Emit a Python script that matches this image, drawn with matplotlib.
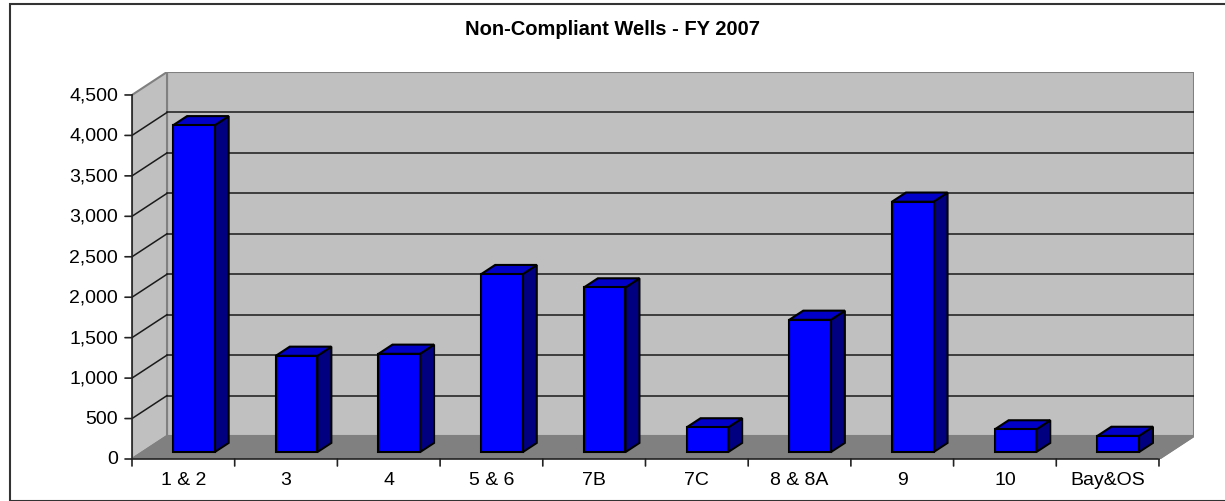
import matplotlib
matplotlib.use("Agg")
import matplotlib.pyplot as plt
from matplotlib.patches import Polygon, Rectangle

plt.rcParams['font.family'] = ['Liberation Sans', 'DejaVu Sans']

# chart data
categories = ['1 & 2', '3', '4', '5 & 6', '7B', '7C', '8 & 8A', '9', '10', 'Bay&OS']
wells = [4040, 1190, 1215, 2200, 2035, 305, 1635, 3095, 280, 200]
y_ticks = [0, 500, 1000, 1500, 2000, 2500, 3000, 3500, 4000, 4500]
title = 'Non-Compliant Wells - FY 2007'

# oblique "3d" depth offset, in data units (categories, value)
DX = 0.341
DY = 284
BAR_W = 0.405
D0, D1 = 0.3, 0.7   # bar front / back as fraction of the depth
y_max = y_ticks[-1]
n = len(categories)

W, H = 1225, 502
fig = plt.figure(figsize=(W / 100, H / 100), dpi=100)

# outer border of the chart area
fig.add_artist(Rectangle((9.5 / W, 0.5 / H), 1.2, (H - 5) / H,
                         transform=fig.transFigure, fill=False,
                         edgecolor='#333333', linewidth=1.5))

fig.text(0.5, 1 - 30 / H, title, ha='center', va='center',
         fontsize=14.5, fontweight='bold')

ax = fig.add_axes([132 / W, (H - 460) / H, (1194 - 132) / W, (460 - 73) / H])
ax.set_xlim(-0.5, n - 0.5 + DX)
ax.set_ylim(0, y_max + DY)
ax.axis('off')

x0, x1 = -0.5, n - 0.5
wall = '#C0C0C0'
edge = '#808080'

# back wall, side wall, floor
ax.add_patch(Polygon([(x0 + DX, DY), (x1 + DX, DY), (x1 + DX, y_max + DY), (x0 + DX, y_max + DY)],
                     closed=True, facecolor=wall, edgecolor=edge, lw=1.5, zorder=1))
ax.add_patch(Polygon([(x0, 0), (x0 + DX, DY), (x0 + DX, y_max + DY), (x0, y_max)],
                     closed=True, facecolor=wall, edgecolor=edge, lw=1.5, zorder=1))
ax.add_patch(Polygon([(x0, 0), (x1, 0), (x1 + DX, DY), (x0 + DX, DY)],
                     closed=True, facecolor='#808080', edgecolor=edge, lw=1.5, zorder=2))

# gridlines
for v in y_ticks[1:-1]:
    ax.plot([x0 + DX, x1 + DX], [v + DY, v + DY], color='#1a1a1a', lw=1.1, zorder=2)
    ax.plot([x0, x0 + DX], [v, v + DY], color='#1a1a1a', lw=1.1, zorder=2)

# front axes
ax.plot([x0, x0], [0, y_max], color='#222222', lw=1.2, zorder=3, clip_on=False)
ax.plot([x0, x1], [0, 0], color='#222222', lw=1.2, zorder=3, clip_on=False)
ax.plot([x1, x1 + DX], [0, DY], color=edge, lw=1.2, zorder=3)

tick_px = 7
for v in y_ticks:
    ax.annotate('', xy=(x0, v), xytext=(-tick_px, 0), textcoords='offset pixels',
                arrowprops=dict(arrowstyle='-', color='#222222', lw=1.2,
                                shrinkA=0, shrinkB=0))
    ax.annotate(f'{v:,}', xy=(x0, v), xytext=(-tick_px - 7, 0), textcoords='offset pixels',
                ha='right', va='center', fontsize=14)
for i in range(n + 1):
    ax.annotate('', xy=(x0 + i, 0), xytext=(0, -tick_px), textcoords='offset pixels',
                arrowprops=dict(arrowstyle='-', color='#222222', lw=1.2,
                                shrinkA=0, shrinkB=0))
for i, lab in enumerate(categories):
    ax.annotate(lab, xy=(i, 0), xytext=(0, -21), textcoords='offset pixels',
                ha='center', va='center', fontsize=14)

# bars
for i, v in enumerate(wells):
    l = i - BAR_W / 2
    r = i + BAR_W / 2
    fx, fy = D0 * DX, D0 * DY
    bx, by = D1 * DX, D1 * DY
    front = [(l + fx, fy), (r + fx, fy), (r + fx, v + fy), (l + fx, v + fy)]
    side = [(r + fx, fy), (r + bx, by), (r + bx, v + by), (r + fx, v + fy)]
    top = [(l + fx, v + fy), (r + fx, v + fy), (r + bx, v + by), (l + bx, v + by)]
    ax.add_patch(Polygon(side, closed=True, facecolor='#000080', edgecolor='black',
                         lw=1.5, joinstyle='miter', zorder=5))
    ax.add_patch(Polygon(top, closed=True, facecolor='#0000C8', edgecolor='black',
                         lw=1.5, joinstyle='miter', zorder=5))
    ax.add_patch(Polygon(front, closed=True, facecolor='#0000FF', edgecolor='black',
                         lw=1.5, joinstyle='miter', zorder=6))

fig.savefig('out.png', dpi=100)
